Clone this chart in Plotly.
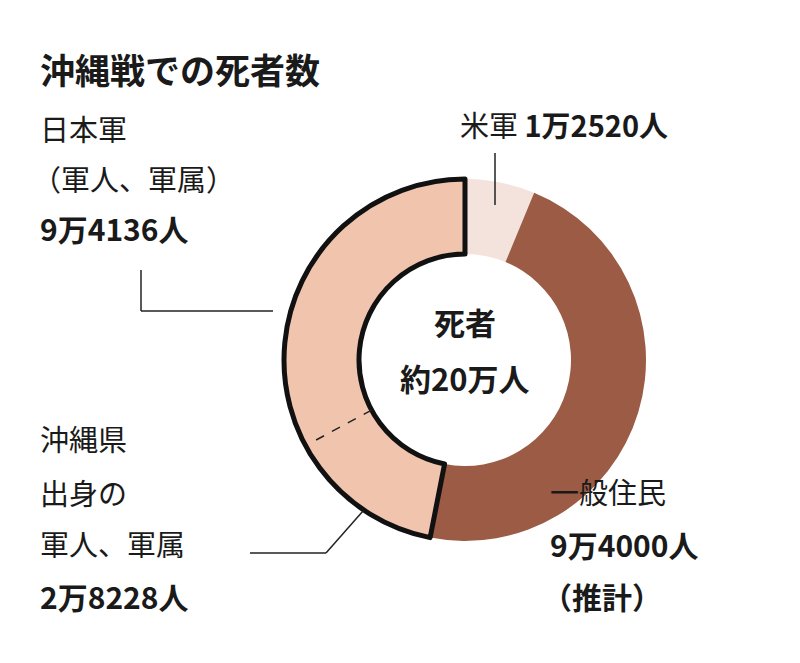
import math
import plotly.graph_objects as go

labels = ["米軍", "一般住民", "日本軍"]
values = [12520, 94000, 94136]
okinawa_part = 28228
colors = ["#f4e2dc", "#9b5b45", "#f1c4ae"]

W, H = 800, 663
cx, cy, ro, ri = 457, 352, 181, 106
F = "Noto Sans CJK JP"

fig = go.Figure(go.Pie(
    labels=labels, values=values, sort=False, direction="clockwise", rotation=0,
    hole=ri / ro, textinfo="none", hoverinfo="label+value",
    marker=dict(colors=colors, line=dict(color=["#f4e2dc", "#9b5b45", "#111"], width=[0, 0, 5])),
    domain=dict(x=[(cx - ro) / W, (cx + ro) / W], y=[1 - (cy + ro) / H, 1 - (cy - ro) / H]),
    showlegend=False,
))

total = sum(values)
theta = 2 * math.pi * (values[0] + values[1] + okinawa_part) / total
def px(r, t):
    return (cx + r * math.sin(t)) / W, 1 - (cy - r * math.cos(t)) / H
x0, y0 = px(ri, theta)
x1, y1 = px(ro - 3, theta)
shapes = [dict(type="line", xref="paper", yref="paper", x0=x0, y0=y0, x1=x1, y1=y1,
               line=dict(color="#222", width=1.5, dash="dash"))]

def seg(pts):
    for (a, b), (c, d) in zip(pts[:-1], pts[1:]):
        shapes.append(dict(type="line", xref="paper", yref="paper",
                           x0=a / W, y0=1 - b / H, x1=c / W, y1=1 - d / H,
                           line=dict(color="#222", width=1.5)))
seg([(133, 262), (133, 303), (265, 303)])
seg([(487, 145), (487, 197)])
seg([(242, 545), (318, 545), (355, 503)])

DX, DY = -10, -12
def txt(x, y, s, size=28, bold=False, align="left"):
    return dict(x=(x + DX) / W, y=1 - (y + DY) / H, xref="paper", yref="paper",
                text=f"<b>{s}</b>" if bold else s,
                showarrow=False, xanchor=align, yanchor="middle",
                align=align, font=dict(family=F, size=size, color="#1a1a1a"))

ann = [
    txt(40, 72, "沖縄戦での死者数", 35, True),
    txt(40, 132, "日本軍", 29),
    txt(32, 182, "（軍人、軍属）", 29),
    txt(40, 232, "9万4136人", 30, True),
    txt(460, 128, "米軍 <b>1万2520人</b>", 29),
    txt(467, 325, "死者", 31, True, "center"),
    txt(467, 381, "約20万人", 31, True, "center"),
    txt(40, 442, "沖縄県", 29),
    txt(40, 496, "出身の", 29),
    txt(40, 547, "軍人、軍属", 29),
    txt(40, 600, "2万8228人", 30, True),
    txt(550, 495, "一般住民", 29),
    txt(550, 548, "9万4000人", 30, True),
    txt(542, 600, "（推計）", 30, True),
]

fig.update_layout(width=W, height=H, margin=dict(l=0, r=0, t=0, b=0),
                  paper_bgcolor="white", plot_bgcolor="white",
                  shapes=shapes, annotations=ann)
fig.write_html("out.html")
